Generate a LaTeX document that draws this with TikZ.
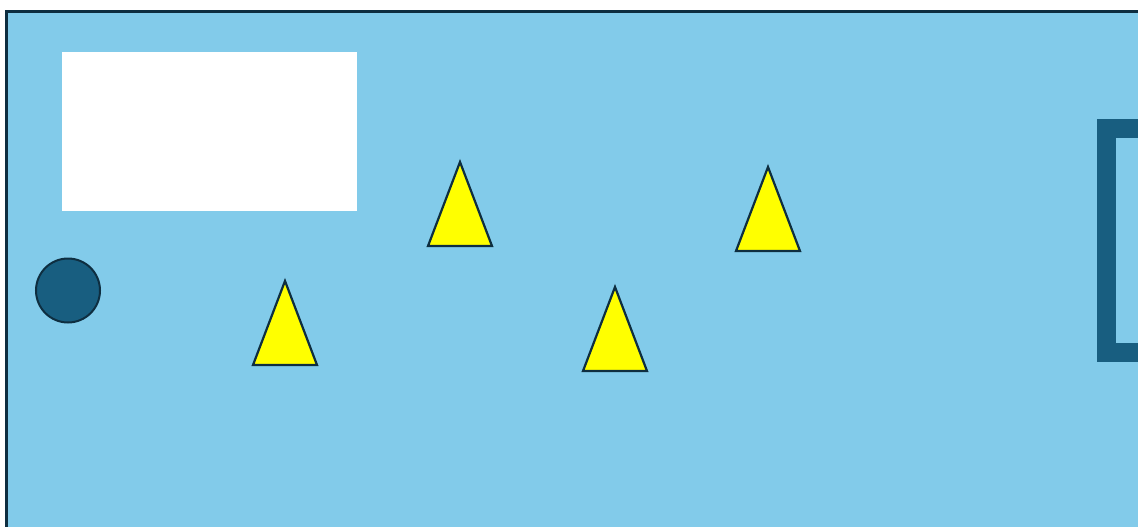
\documentclass[tikz,border=0pt]{standalone}
\definecolor{sky}{HTML}{82CBEA}
\definecolor{deep}{HTML}{185E80}
\definecolor{ink}{HTML}{0E2E40}
\definecolor{yel}{HTML}{FFFF00}
\begin{document}
\begin{tikzpicture}[x=1pt,y=-1pt,
  cone/.style={fill=yel,draw=ink,line width=2.2pt,line join=miter},
]
\useasboundingbox (0,0) rectangle (1138,527);
\clip (0,0) rectangle (1138,527);
\fill[white] (0,0) rectangle (1138,527);
% field
\draw[fill=sky,draw=ink,line width=3pt] (6.5,11.5) rectangle (1160,550);
% white box
\node[fill=white,inner sep=0pt,minimum width=295pt,minimum height=159pt,anchor=north west] (board) at (62,52) {};
% ball
\node[circle,fill=deep,draw=ink,line width=2pt,minimum size=64pt,inner sep=0pt] (ball) at (68,290.5) {};
% goal frame
\draw[deep,line width=19pt] (1160,128.5) -- (1106.5,128.5) -- (1106.5,352.5) -- (1160,352.5);
\coordinate (goal) at (1106.5,240);
% cones
\draw[cone] (285,281) -- (317,365) -- (253,365) -- cycle;
\draw[cone] (460,162) -- (492,246) -- (428,246) -- cycle;
\draw[cone] (615,287) -- (647,371) -- (583,371) -- cycle;
\draw[cone] (768,167) -- (800,251) -- (736,251) -- cycle;
\end{tikzpicture}
\end{document}
